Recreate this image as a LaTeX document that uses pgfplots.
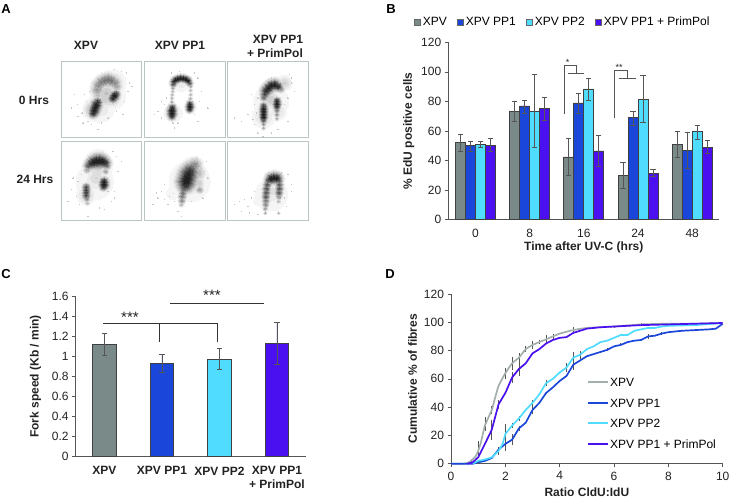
\documentclass[border=0pt]{standalone}
\usepackage{fontspec}
\setmainfont{Liberation Sans}
\usepackage{pgfplots}
\usepackage{pgfplotstable}
\pgfplotsset{compat=1.18}

\definecolor{cxpv}{HTML}{7A8A88}
\definecolor{cpp1}{HTML}{1A47D9}
\definecolor{cpp2}{HTML}{50DCFF}
\definecolor{cprim}{HTML}{4B10F0}
\definecolor{cline}{HTML}{A3AFAC}
\definecolor{cframe}{HTML}{B9C6C3}
\definecolor{caxis}{HTML}{555555}
\definecolor{ctext}{HTML}{222222}

\newcommand{\fsn}{\fontsize{12}{14}\selectfont}
\newcommand{\fsb}{\fontsize{12}{14}\selectfont\bfseries}

% panel A: density clouds, x y in zoomed picture units, r radius, o darkness
\pgfplotstableread{
x y r o
150 110 30 0.10
125 150 22 0.12
165 75 16 0.20
118 95 8 0.45
122 82 8 0.50
130 73 8 0.55
140 68 8 0.60
150 65 8 0.60
160 68 8 0.60
170 74 8 0.50
176 84 7 0.40
145 105 13 0.28
120 110 8 0.30
160 120 12 0.28
140 125 10 0.25
105 155 11 0.35
165 120 6 0.90
170 113 6 1.00
175 108 5 0.80
106 165 6 0.90
109 157 7 1.00
112 149 7 1.00
115 141 7 1.00
119 133 6 0.85
370 75 13 0.12
345 165 13 0.14
397 145 9 0.14
346 78 4 0.70
348 71 4.5 0.85
353 66 4.5 1.00
360 63 4.5 1.00
368 61 4.5 1.00
376 62 4.5 1.00
384 64 4.5 1.00
390 68 4.5 0.95
395 75 4 0.70
345 90 2.5 0.40
344 100 2.5 0.30
343 110 2.5 0.30
342 120 2.5 0.30
342 132 2.5 0.35
398 85 2.5 0.40
398 97 2.5 0.30
398 110 2.5 0.30
397 122 2.5 0.35
343 150 5 0.90
342 158 6 1.00
342 166 6 1.00
342 174 5 0.85
396 139 4.5 0.90
396 146 5 1.00
395 153 4.5 0.90
640 130 30 0.10
617 175 16 0.15
660 160 12 0.15
680 75 9 0.22
665 80 9 0.25
640 125 11 0.25
618 118 5 0.60
621 108 6 0.75
625 98 7 0.90
632 90 7 1.00
640 83 7 1.00
650 81 7 1.00
660 85 6 0.90
668 92 5 0.50
617 145 5 0.80
617 153 5 1.00
617 161 5 1.00
617 169 5 1.00
617 177 5 1.00
617 187 4 0.70
617 198 3 0.45
617 210 2.5 0.35
657 130 5 0.90
657 138 5 1.00
657 146 4.5 0.85
657 158 3.5 0.55
657 170 3 0.45
657 182 2.5 0.35
110 370 32 0.10
120 320 17 0.25
85 410 12 0.20
115 360 13 0.20
88 335 5 0.40
92 322 6 0.70
100 316 7 0.90
108 312 8 1.00
116 310 9 1.00
125 309 9 1.00
133 310 8 1.00
141 314 7 0.90
147 322 5 0.60
143 340 4 0.40
138 372 6 0.95
138 380 6 1.00
137 386 5 0.85
85 388 5 0.75
85 396 5 0.80
85 404 5 0.80
85 412 5 0.75
86 422 4 0.50
88 435 3 0.30
395 370 30 0.13
345 405 12 0.09
425 395 5 0.40
418 345 10 0.35
422 375 8 0.25
410 322 9 0.50
402 330 10 0.60
396 340 11 0.85
391 350 12 0.95
388 360 12 1.00
385 370 12 1.00
383 380 10 0.90
378 392 7 0.65
375 405 5 0.60
373 415 5 0.55
372 428 4 0.50
370 440 3 0.30
640 410 28 0.10
600 430 15 0.06
645 400 10 0.18
632 366 5 0.80
640 362 7 1.00
648 360 7 1.00
656 361 7 1.00
663 367 5 0.70
628 380 5 0.70
626 392 5 0.70
625 404 5 0.70
624 416 5 0.65
624 428 4.5 0.55
623 440 4 0.50
622 452 3 0.40
622 465 2 0.35
664 380 5 0.65
664 392 5 0.70
663 404 5 0.65
663 416 4 0.45
662 430 3 0.30
662 465 2 0.30
}\blobdata

\pgfplotstableread{
x y
40 150
60 175
75 195
50 110
205 45
215 75
210 100
195 170
120 215
85 130
72 165
58 140
90 190
100 200
130 195
150 180
175 160
200 130
222 85
190 40
170 35
95 100
80 110
300 160
320 140
310 180
420 60
430 100
350 210
420 190
450 150
365 40
325 120
330 150
310 130
290 170
360 195
410 170
425 130
410 45
340 45
345 195
570 170
550 190
590 140
600 120
700 60
710 100
690 190
640 60
600 225
530 180
580 110
595 165
590 200
585 185
690 120
680 140
700 75
695 50
640 225
615 235
660 215
40 395
30 430
60 370
175 295
180 340
170 400
125 450
90 475
170 420
55 415
65 440
45 360
160 430
150 400
70 350
190 310
165 280
140 455
300 420
285 440
320 380
450 360
445 310
370 475
330 440
310 400
335 415
350 430
295 405
320 425
360 460
430 330
440 340
435 420
400 430
415 300
700 380
680 420
550 460
530 440
580 420
690 350
600 470
570 445
590 400
560 425
610 395
700 400
685 445
670 345
545 430
575 465
}\speckdata

% panel B: x, value, error up and down
\pgfplotstableread{
x y ep em
0 52.5 5.5 6
1 73 7 6.5
2 42.5 12.5 12.5
3 30 9 9
4 51 9 9
}\dataBa
\pgfplotstableread{
x y ep em
0 50 3 4
1 77 4 5
2 79 6.5 7
3 69 4 5
4 47 12 12
}\dataBb
\pgfplotstableread{
x y ep em
0 51 2 2
1 73.5 24.5 24.5
2 88.5 7 7.5
3 81.5 16 15.5
4 59.5 4 5
}\dataBc
\pgfplotstableread{
x y ep em
0 50.5 4.5 4.5
1 75 8 8
2 46.5 10.5 10.5
3 31.5 2.5 2.5
4 49 4.5 4
}\dataBd

\pgfplotsset{
  panel/.style={
    scale only axis,
    axis lines=left,
    axis line style={-,draw=caxis,line width=0.8pt},
    every tick/.style={draw=caxis,line width=0.7pt},
    tick align=outside,
    major tick length=3.5pt,
    minor tick length=3.5pt,
    tick label style={font=\fsn,text=ctext},
    label style={font=\fsb,text=ctext},
    /pgf/number format/assume math mode=true,
    ytick pos=left,
    xtick pos=bottom,
  },
  barerr/.style={
    error bars/.cd,
    y dir=both,y explicit,
    error bar style={draw=caxis,line width=0.9pt},
    error mark options={rotate=90,mark size=2.6pt,draw=caxis,line width=0.9pt},
  },
}

\newcommand{\barB}[3]{%
  \addplot[fill=#1,draw=black!75,line width=0.7pt,bar shift=#2,barerr]
    table[x=x,y=y,y error plus=ep,y error minus=em] {#3};}

% one grey level of the clouds: each point is drawn as wide as its density reaches that level
\newcommand{\cloud}[2]{%
  \addplot[scatter,only marks,mark=*,
    scatter/use mapped color={draw=black!#2,fill=black!#2},
    mark options={line width=0pt},
    restrict expr to domain={\thisrow{o}}{#1:5},
    visualization depends on={0.7*\thisrow{r}*sqrt(max(ln(\thisrow{o}/#1),0.01)) \as \rad},
    scatter/@pre marker code/.append style={/tikz/mark size=\rad}]
    table[x=x,y=y] {\blobdata};}

\begin{document}
\begin{tikzpicture}
\path[use as bounding box] (0,0) rectangle (729pt,499pt);

% panel A
\begin{axis}[
    at={(58pt,275pt)},anchor=south west,
    scale only axis,width=255pt,height=166pt,
    xmin=0,xmax=765,ymin=0,ymax=498,y dir=reverse,
    axis lines=none,clip=false]
  \cloud{0.05}{4}
  \cloud{0.09}{8}
  \cloud{0.14}{13}
  \cloud{0.20}{19}
  \cloud{0.27}{26}
  \cloud{0.35}{34}
  \cloud{0.45}{44}
  \cloud{0.55}{54}
  \cloud{0.65}{64}
  \cloud{0.75}{73}
  \cloud{0.85}{81}
  \cloud{0.93}{87}
  \addplot[only marks,mark=*,mark size=0.3pt,mark options={line width=0pt,draw=black!22,fill=black!22}]
    table[x=x,y=y] {\speckdata};
\end{axis}

% panel B
\begin{axis}[panel,
    at={(448.3pt,279.3pt)},anchor=south west,
    width=271pt,height=177.4pt,
    ybar,
    bar width=10pt,
    xmin=-0.5,xmax=4.5,ymin=0,ymax=120,
    xtick={0,1,2,3,4},xticklabels={0,8,16,24,48},
    xticklabel style={yshift=-2pt},
    minor xtick={-0.5,0.5,1.5,2.5,3.5,4.5},
    xtick style={draw=none},
    minor tick length=3.5pt,
    ytick={0,20,40,60,80,100,120},
    xlabel={Time after UV-C (hrs)},
    ylabel={\% EdU positive cells},
    xlabel style={yshift=2pt},
    ylabel style={yshift=0pt},
    legend columns=4,
    legend style={at={(-0.127,1.113)},anchor=west,draw=none,fill=none,
      font=\fsn,inner xsep=0pt,
      /tikz/every even column/.append style={column sep=8pt}},
    legend image code/.code={\draw[#1,draw=black!60,line width=0.5pt] (0pt,-3.2pt) rectangle (6.4pt,3.2pt);},
  ]
  \barB{cxpv}{-15pt}{\dataBa}
  \barB{cpp1}{-5pt}{\dataBb}
  \barB{cpp2}{5pt}{\dataBc}
  \barB{cprim}{15pt}{\dataBd}
  \legend{XPV,XPV PP1,XPV PP2,XPV PP1 + PrimPol}
\end{axis}

% panel C
\begin{axis}[panel,
    at={(75.7pt,42.3pt)},anchor=south west,
    width=230pt,height=160.7pt,
    ybar,
    bar width=23.3pt,
    xmin=-0.5,xmax=3.5,ymin=0,ymax=1.6,
    xtick={0,1,2,3},
    xticklabels={XPV,XPV PP1,XPV PP2,XPV PP1\\+ PrimPol},
    xticklabel style={font=\fsb,align=center,yshift=-3pt},
    minor xtick={-0.5,0.5,1.5,2.5,3.5},
    xtick style={draw=none},
    ytick={0,0.2,0.4,0.6,0.8,1,1.2,1.4,1.6},
    yticklabels={0,0.2,0.4,0.6,0.8,1,1.2,1.4,1.6},
    ylabel={Fork speed (Kb / min)},
    ylabel style={yshift=4pt},
  ]
  \addplot[fill=cxpv,draw=black!75,line width=0.7pt,bar shift=0pt,barerr]
    table[x=x,y=y,y error plus=ep,y error minus=em] {
x y ep em
0 1.12 0.11 0.11
};
  \addplot[fill=cpp1,draw=black!75,line width=0.7pt,bar shift=0pt,barerr]
    table[x=x,y=y,y error plus=ep,y error minus=em] {
x y ep em
1 0.93 0.09 0.09
};
  \addplot[fill=cpp2,draw=black!75,line width=0.7pt,bar shift=0pt,barerr]
    table[x=x,y=y,y error plus=ep,y error minus=em] {
x y ep em
2 0.97 0.105 0.10
};
  \addplot[fill=cprim,draw=black!75,line width=0.7pt,bar shift=0pt,barerr]
    table[x=x,y=y,y error plus=ep,y error minus=em] {
x y ep em
3 1.13 0.21 0.21
};
\end{axis}

% panel D
\begin{axis}[panel,
    at={(451pt,35.3pt)},anchor=south west,
    width=271.7pt,height=169.7pt,
    xmin=0,xmax=10,ymin=0,ymax=120,
    xtick={0,2,4,6,8,10},
    ytick={0,20,40,60,80,100,120},
    xticklabel style={yshift=-1pt},
    xlabel={Ratio CldU:IdU},
    xlabel style={yshift=-1pt},
    ylabel={Cumulative \% of fibres},
    ylabel style={yshift=0pt},
    clip=false,
  ]
  % error ticks first, the curves run over them
  \addplot[draw=none,forget plot,mark=none,
    error bars/.cd,y dir=both,y explicit,
    error bar style={draw=caxis,line width=0.7pt},error mark=none]
    table[x=x,y=y,y error=e] {
x y e
0.75 1.5 1.5
1 10 6
1.25 28 5
1.5 38 3
2 64 4
2.25 71 4.5
2.5 75 3
2.75 81 2
3 84 3
3.25 86 1.5
3.5 88 3
3.75 90 1.5
4.5 94.5 2.5
6 97 0.6
7 98.5 1
1.5 24 7
1.75 42 3
2.25 61 4
2.5 67 5
1.75 9 3
2 21 7
2.25 27 2
2.5 32 2
3 43 2
3.5 57 2
4.25 68 3
4.5 75 4
4.75 77 3
7.5 96 0.8
2 14 5
2.25 17 4
2.5 25 2
3 38 3
3.5 50 1
4.5 70 4
5.75 80.5 1
6.25 84 1
7.25 90 2
7.75 92 1
};
  \addplot[forget plot,cline,line width=1.7pt,smooth,tension=0.3] coordinates {
    (0,0)(0.5,0)(0.7,1.5)(0.9,5)(1,9)(1.1,15)(1.25,27)(1.5,38)(1.6,45)(1.75,55)(2,64)
    (2.25,71)(2.5,75)(2.75,81)(3,84)(3.25,86)(3.5,88)(3.75,90)(4,92)(4.5,94.5)(5,96)
    (6,97)(7,98.5)(8,99)(9,99)(10,99.5)};
  \addplot[forget plot,cpp1,line width=1.7pt] coordinates {
    (0,0)(0.8,0)(1,1)(1.25,2)(1.5,4)(1.75,10)(2,14)(2.25,17)(2.5,25)(2.75,29)(3,38)
    (3.25,43)(3.5,50)(3.75,54)(4,58.5)(4.25,62)(4.5,70)(4.75,73)(5,76)(5.5,79)(5.75,80.5)
    (6,83)(6.25,84)(6.5,86)(6.75,87)(7,87.5)(7.25,90)(7.5,90.5)(7.75,92)(8,93)(8.5,94)
    (9,94.5)(9.5,95)(9.75,95.5)(10,99)};
  \addplot[forget plot,cpp2,line width=1.7pt] coordinates {
    (0.8,0)(1,2)(1.25,3)(1.5,4.5)(1.75,9)(1.9,14)(2,21)(2.25,27)(2.5,32)(2.75,38)(3,43)
    (3.25,49)(3.5,57)(3.75,60)(4,64.5)(4.25,68)(4.5,75)(4.75,77)(5,81)(5.25,83)(5.5,86)
    (5.75,87)(6,89)(6.25,91)(6.5,91)(6.75,94)(7,95)(7.25,96)(7.5,96)(7.75,97)(8,97.5)
    (9,98)(10,99.5)};
  \addplot[forget plot,cprim,line width=1.7pt] coordinates {
    (0.6,0)(0.8,1)(1,4.5)(1.25,14)(1.5,24)(1.75,42)(2,50)(2.25,61)(2.5,67)(2.75,71)(3,78)
    (3.25,81)(3.5,85)(3.75,87.5)(4,89)(4.25,89.5)(4.5,92.5)(5,95.5)(5.5,96.5)(6,97)
    (6.5,97.5)(7,98)(8,98.5)(9,99)(10,99.5)};
\end{axis}

% picture coordinates from here on: x right, y down, one unit a pixel
\begin{scope}[shift={(0pt,499pt)},x=1pt,y=-1pt]
  \foreach \xa/\xb in {61.3/141.7,144.3/225,227.3/308.7}{
    \draw[cframe,line width=1pt] (\xa,62) rectangle (\xb,138);
    \draw[cframe,line width=1pt] (\xa,141.3) rectangle (\xb,220.7);
  }
  \begin{scope}[every node/.style={font=\fsb,text=ctext,inner sep=0pt}]
    \node at (86,45) {XPV};
    \node at (180,45) {XPV PP1};
    \node at (278,39) {XPV PP1};
    \node at (275,53) {+ PrimPol};
    \node at (34,100) {0 Hrs};
    \node at (35,179) {24 Hrs};
  \end{scope}
  \begin{scope}[every node/.style={font=\fontsize{13}{15}\selectfont\bfseries,text=black,inner sep=0pt}]
    \node at (6,9) {A};
    \node at (391,9) {B};
    \node at (6,274) {C};
    \node at (390,274) {D};
  \end{scope}
  % legend of panel D
  \foreach \yy/\col/\name in {382/cline/XPV,403/cpp1/XPV PP1,423/cpp2/XPV PP2,444/cprim/XPV PP1 + PrimPol}{
    \draw[\col,line width=2pt] (588.3,\yy) -- (608.3,\yy);
    \node[font=\fsn,anchor=west,inner sep=0pt] at (610,\yy) {\name};
  }
  % significance brackets, panel B
  \draw[caxis,line width=0.8pt] (564.3,114) -- (564.3,65.7) -- (576.7,65.7) -- (576.7,73.3);
  \draw[caxis,line width=0.8pt] (568.3,73.3) -- (584,73.3);
  \draw[caxis,line width=0.8pt] (614,118.3) -- (614,70.3) -- (627.7,70.3) -- (627.7,78.3);
  \draw[caxis,line width=0.8pt] (618.7,78.3) -- (636,78.3);
  \node[font=\fontsize{9}{10}\selectfont,text=ctext,inner sep=0pt] at (567.7,62.5) {*};
  \node[font=\fontsize{9}{10}\selectfont,text=ctext,inner sep=0pt] at (619,67.5) {**};
  % significance lines, panel C
  \draw[black!80,line width=0.8pt] (103.3,323.3) -- (217.3,323.3) -- (217.3,341.7);
  \draw[black!80,line width=0.8pt] (159.7,323.3) -- (159.7,341.7);
  \draw[black!80,line width=0.8pt] (170,303.7) -- (264.3,303.7);
  \node[font=\fontsize{15}{17}\selectfont,text=ctext,inner sep=0pt] at (130,317) {***};
  \node[font=\fontsize{15}{17}\selectfont,text=ctext,inner sep=0pt] at (212,295) {***};
\end{scope}
\end{tikzpicture}
\end{document}
